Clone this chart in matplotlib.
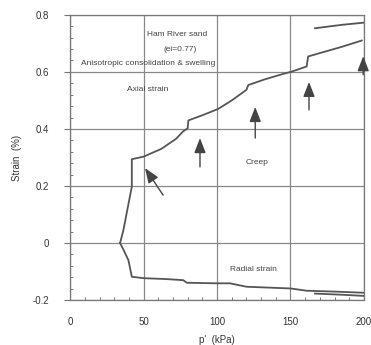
import matplotlib
matplotlib.use("Agg")
import matplotlib.pyplot as plt
from matplotlib.ticker import MultipleLocator

plt.rcParams['font.family'] = ['Liberation Sans', 'DejaVu Sans']

# Axial strain (consolidation path, with creep steps)
axial_p = [34, 36.3, 38.5, 42, 42, 50, 62, 72, 77, 80, 80.5, 90, 100.7, 110, 120, 121.3, 132, 143, 150.8, 161, 162, 170, 185, 198.5]
axial_e = [0.0, 0.046, 0.105, 0.198, 0.294, 0.303, 0.33, 0.365, 0.392, 0.402, 0.43, 0.448, 0.47, 0.5, 0.537, 0.554, 0.573, 0.59, 0.601, 0.619, 0.654, 0.666, 0.688, 0.71]
# Axial strain, swelling branch
axial2_p = [166.7, 185, 200.7]
axial2_e = [0.753, 0.765, 0.773]

# Radial strain
radial_p = [34, 36, 39.7, 42, 50, 65, 77, 79.4, 99.8, 108.8, 120, 150, 161, 180, 199.5]
radial_e = [0.0, -0.02, -0.06, -0.118, -0.123, -0.126, -0.13, -0.139, -0.141, -0.141, -0.153, -0.159, -0.167, -0.170, -0.174]
radial2_p = [166.7, 185, 199.5]
radial2_e = [-0.177, -0.181, -0.185]

# Arrows (tail -> head) in data coordinates
arrow_tails = [(63.3, 0.168), (88.4, 0.267), (126, 0.368), (162.6, 0.467), (199.5, 0.59)]
arrow_heads = [(51, 0.263), (88.4, 0.368), (126, 0.477), (162.6, 0.565), (199.5, 0.655)]

xticks = [0, 50, 100, 150, 200]
yticks = [-0.2, 0, 0.2, 0.4, 0.6, 0.8]
ytick_labels = ["-0.2", "0", "0.2", "0.4", "0.6", "0.8"]

fig = plt.figure(figsize=(3.71, 3.45), dpi=100)
ax = fig.add_axes([0.189, 0.130, 0.792, 0.827])

line_col = '#555555'
ax.plot(axial_p, axial_e, color=line_col, lw=1.3)
ax.plot(axial2_p, axial2_e, color=line_col, lw=1.3)
ax.plot(radial_p, radial_e, color=line_col, lw=1.3)
ax.plot(radial2_p, radial2_e, color=line_col, lw=1.3)

for (tx, ty), (hx, hy) in zip(arrow_tails, arrow_heads):
    ax.annotate('', xy=(hx, hy), xytext=(tx, ty),
                arrowprops=dict(arrowstyle='-|>,head_length=0.9,head_width=0.35',
                                color='#444444', lw=1.0, shrinkA=0, shrinkB=0),
                annotation_clip=False)

ax.set_xlim(0, 200)
ax.set_ylim(-0.2, 0.8)
ax.set_xticks(xticks)
ax.set_yticks(yticks)
ax.set_yticklabels(ytick_labels)
ax.yaxis.set_minor_locator(MultipleLocator(0.04))
ax.xaxis.set_minor_locator(MultipleLocator(10))
ax.grid(True, which='major', color='#888888', lw=0.9)
ax.tick_params(which='minor', direction='in', length=2.5, colors='#666666')
ax.tick_params(axis='y', which='major', direction='out', length=4, colors='#777777',
               labelcolor='#333333', labelsize=7, pad=11)
ax.tick_params(axis='x', which='major', length=0, labelcolor='#333333', labelsize=7, pad=12)
for s in ax.spines.values():
    s.set_color('#777777')
    s.set_linewidth(0.9)

ax.set_xlabel("p'  (kPa)", fontsize=7, color='#333333', labelpad=6)
ax.set_ylabel("Strain  (%)", fontsize=7, color='#333333', labelpad=8)

txt = dict(fontsize=6, color='#444444', ha='center', va='center')
ax.text(73, 0.732, "Ham River sand", **txt)
ax.text(75, 0.68, "(ei=0.77)", **txt)
ax.text(53, 0.628, "Anisotropic consolidation & swelling", **txt)
ax.text(53, 0.539, "Axial strain", **txt)
ax.text(127, 0.281, "Creep", **txt)
ax.text(125, -0.092, "Radial strain", **txt)

fig.savefig("out.png", dpi=100, facecolor='white')
